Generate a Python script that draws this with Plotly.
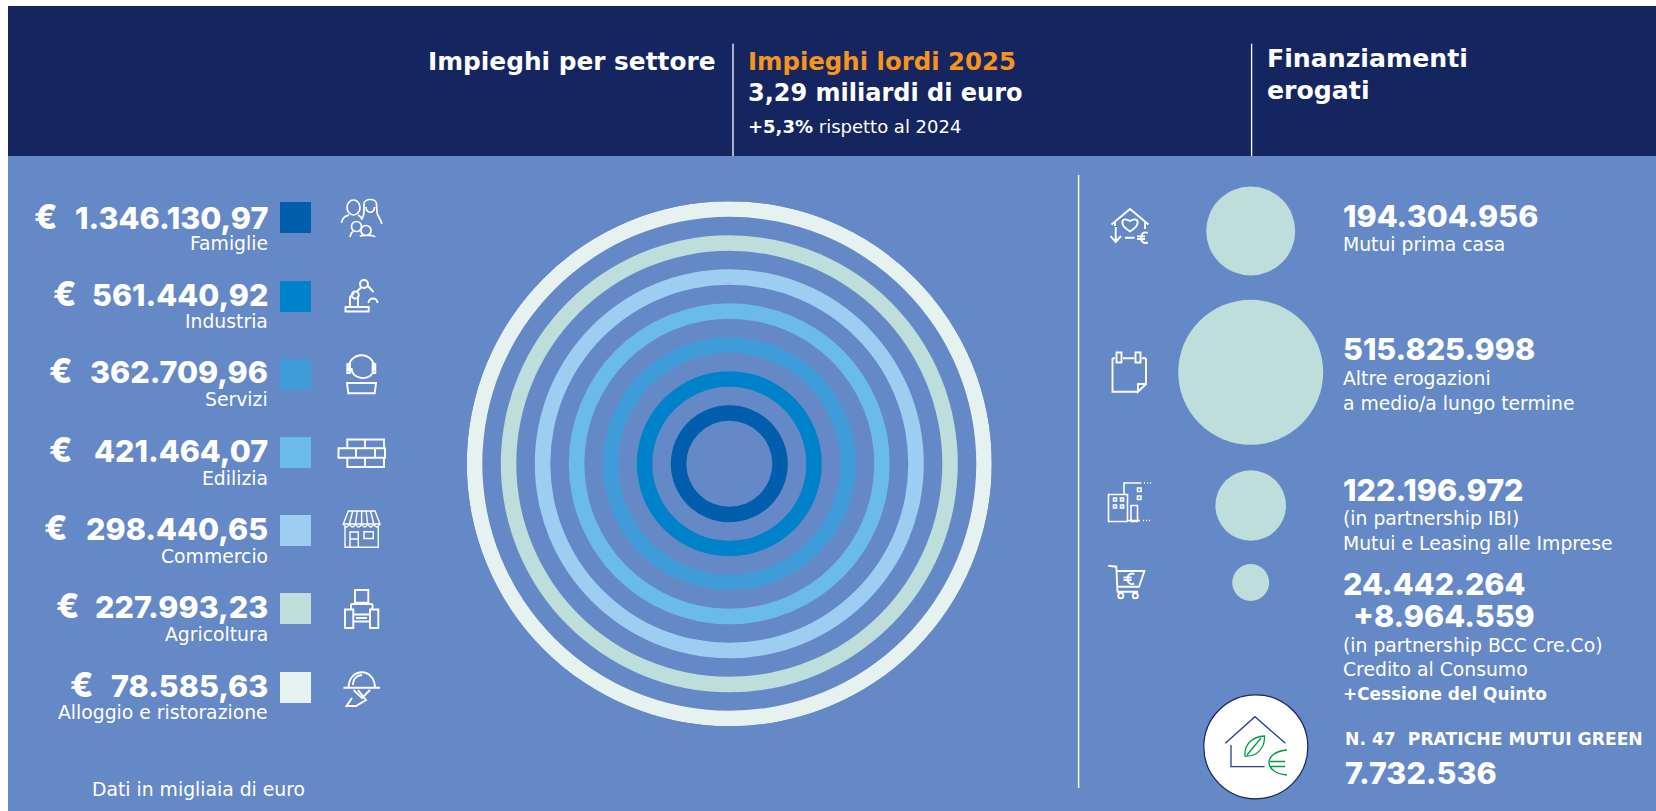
import plotly.graph_objects as go

W, H = 1656, 811
FONT = "Inter"
WIDE = "DejaVu Sans"

# ---- data ----
sectors = ["Famiglie", "Industria", "Servizi", "Edilizia", "Commercio", "Agricoltura", "Alloggio e ristorazione"]
sector_values = [1346130.97, 561440.92, 362709.96, 421464.07, 298440.65, 227993.23, 78585.63]
sector_colors = ["#005EAD", "#0082CA", "#3F9CD9", "#6ABBEA", "#9DCEF2", "#BDDEDB", "#E6F2F0"]
funding_values = [194304956, 515825998, 122196972, 24442264 + 8964559]
funding_colors = "#BDDEDB"

# ---- layout constants (pixels) ----
NAVY, BLUE, ORANGE = "#14255F", "#6589C7", "#F7941E"
ROW_VAL_BASE = [228.7, 306, 383.3, 461.7, 540, 618, 696.7]
ROW_LAB_BASE = [250, 328, 406, 485, 563, 641, 719]
ROW_EURO_RIGHT = [58, 76.7, 73.3, 73.3, 68, 80, 94.3]
SWATCH_Y = [217.5, 296.5, 374.5, 452.5, 530.5, 608.5, 687.5]
BUBBLE_Y = [231, 372.3, 505.5, 582.5]
CX, CY, R_OUT = 729.3, 463.8, 262.5
RING_W, RING_PITCH, RING_IN = 15.5, 34, 43

def it_num(v, dec=2):
    s = f"{v:,.{dec}f}"
    return s.replace(",", "§").replace(".", ",").replace("§", ".")

fig = go.Figure()

# rings
fig.add_trace(go.Barpolar(
    r=[RING_W] * len(sectors),
    base=[RING_IN + RING_PITCH * i for i in range(len(sectors))],
    theta=[180] * len(sectors), width=[360] * len(sectors),
    marker=dict(color=sector_colors, line=dict(width=0)),
    text=sectors, hoverinfo="text", showlegend=False))

# swatches
fig.add_trace(go.Scatter(
    x=[295.5] * len(sectors), y=SWATCH_Y, mode="markers", text=sectors, hoverinfo="text",
    marker=dict(symbol="square", size=31, color=sector_colors, line=dict(width=0)), showlegend=False))

# bubbles
fig.add_trace(go.Scatter(
    x=[1250.7] * 4, y=BUBBLE_Y, mode="markers",
    marker=dict(size=funding_values, sizemode="area", sizeref=2 * max(funding_values) / 145.0 ** 2,
                opacity=1, color=funding_colors, line=dict(width=0)), hoverinfo="skip", showlegend=False))

# green badge
fig.add_trace(go.Scatter(
    x=[1255.8], y=[746.8], mode="markers", hoverinfo="skip", showlegend=False,
    marker=dict(size=104, color="white", line=dict(width=1.2, color=NAVY))))

shapes = []
def rect(x0, y0, x1, y1, c):
    shapes.append(dict(type="rect", xref="x", yref="y", x0=x0, y0=y0, x1=x1, y1=y1,
                       fillcolor=c, line=dict(width=0), layer="below"))
def vline(x, y0, y1, w=1.3):
    shapes.append(dict(type="line", xref="x", yref="y", x0=x, x1=x, y0=y0, y1=y1,
                       line=dict(color="white", width=w), layer="above"))

rect(8, 6, W, 156, NAVY)
rect(8, 156, W, H, BLUE)
vline(733, 43.7, 156); vline(1251.6, 43.7, 156); vline(1078.6, 175, 788, 1.4)

# ---- icon helpers ----
def ell(cx, cy, rx, ry=None):
    ry = rx if ry is None else ry
    k = 0.5523
    return (f"M{cx-rx},{cy} C{cx-rx},{cy-k*ry} {cx-k*rx},{cy-ry} {cx},{cy-ry} "
            f"C{cx+k*rx},{cy-ry} {cx+rx},{cy-k*ry} {cx+rx},{cy} "
            f"C{cx+rx},{cy+k*ry} {cx+k*rx},{cy+ry} {cx},{cy+ry} "
            f"C{cx-k*rx},{cy+ry} {cx-rx},{cy+k*ry} {cx-rx},{cy} Z ")
def pl(*pts, close=False):
    s = "M" + " L".join(f"{x},{y}" for x, y in pts)
    return s + (" Z " if close else " ")
def box(x0, y0, x1, y1):
    return pl((x0, y0), (x1, y0), (x1, y1), (x0, y1), close=True)
def euro(cx, cy, r):
    return (f"M{cx+.8*r},{cy-.8*r} C{cx-.7*r},{cy-1.4*r} {cx-.7*r},{cy+1.4*r} {cx+.8*r},{cy+.8*r} "
            + pl((cx-r, cy-.22*r), (cx+.35*r, cy-.22*r)) + pl((cx-r, cy+.22*r), (cx+.35*r, cy+.22*r)))
def heart(cx, cy, r):
    return (f"M{cx},{cy+r} C{cx-1.6*r},{cy} {cx-1.1*r},{cy-1.1*r} {cx},{cy-.4*r} "
            f"C{cx+1.1*r},{cy-1.1*r} {cx+1.6*r},{cy} {cx},{cy+r} Z ")
def icon(path, color="white", w=1.9):
    shapes.append(dict(type="path", xref="x", yref="y", path=path,
                       line=dict(color=color, width=w), fillcolor="rgba(0,0,0,0)", layer="above"))

# famiglie
icon(ell(353.5, 207.5, 6.5, 7.5) + "M341.5,223 C342,217 346,216 349,215 "
     + "M358,215 C360,216 361,217 362,219 "
     + "M364,204 C364,198 376.5,198 376.5,204 L377,212 C377,216 381,219 381.8,224 "
     + "M364,204 L364,212 C364,216 362,218 361.5,220 "
     + "M366,207 C366,214 374.5,214 374.5,207 "
     + ell(356.5, 226.5, 5) + ell(366, 230.5, 5)
     + "M350,237 C351,233 352,232 353,231.5 M360,236.5 C361,235 374,235 375,237", w=1.7)
# industria
icon(box(345.5, 307, 368.7, 311.5) + pl((350, 307), (350, 297), (354, 293)) + pl((358, 307), (358, 296))
     + ell(355.3, 295, 3.5) + ell(364, 284, 4) + pl((356.5, 292), (361.5, 287))
     + pl((367.5, 285.5), (373.5, 292)) + "M368.5,303 C368.5,297 377.5,297 377.5,303 ")
# servizi
icon("M348.5,371 C347,350 376,350 374.5,371 "
     + box(347.3, 364, 350, 373) + box(372.6, 364, 375.3, 373)
     + "M351.5,368 C352,380 368,380 372,374 "
     + pl((347, 383), (376, 383), (374.7, 393.3), (348.3, 393.3), close=True))
# edilizia
icon(box(347.3, 439.5, 384, 448.3) + pl((365, 439.5), (365, 448.3)) + box(338.5, 448.3, 385, 457.7)
     + pl((356, 448.3), (356, 457.7)) + pl((375, 448.3), (375, 457.7)) + box(347.3, 457.7, 384, 467)
     + pl((365, 457.7), (365, 467)))
# commercio
aw = pl((348.3, 511), (375, 511), (380, 524), (343.3, 524), close=True)
for i in range(1, 6):
    aw += pl((348.3 + i * 4.45, 511), (343.3 + i * 6.1, 524))
for i in range(6):
    aw += f"M{343.3+i*6.1},524 Q{346.4+i*6.1},530 {349.4+i*6.1},524 "
icon(aw + pl((345, 527), (345, 547.3), (378.3, 547.3), (378.3, 527))
     + box(350, 532, 358.3, 547.3) + pl((350, 539), (358.3, 539)) + box(364, 531.7, 373.3, 538.5), w=1.4)
# agricoltura
icon(box(355, 590, 368.3, 602.7) + pl((351, 604), (372.5, 604)) + pl((351, 604), (351, 609)) + pl((372.5, 604), (372.5, 609))
     + box(345, 609.5, 353.3, 628) + box(370, 609.5, 378.3, 628) + pl((353.3, 621.5), (370, 621.5))
     + pl((353.3, 614.5), (370, 614.5)) + pl((356, 618), (367, 618)))
# alloggio e ristorazione
icon(pl((343.5, 687.7), (380, 687.7)) + "M348.5,687.7 C349,667 374.5,667 375,687.7 "
     + "M353,685 C353,677 359,675 362,675 " + pl((353.5, 690), (362, 698), (370, 690)) + pl((358, 690), (366, 700), (356, 706), (346.5, 706), (352, 698)))
# mutui prima casa
icon(pl((1111.5, 224.5), (1130, 209), (1148.5, 224.5)) + pl((1115, 222), (1115, 226)) + pl((1145, 222), (1145, 229))
     + heart(1130, 224, 7.5) + pl((1115.7, 227), (1115.7, 241)) + pl((1110.5, 236), (1115.7, 242), (1121, 236))
     + pl((1125, 237.7), (1134.5, 237.7)) + euro(1143, 237.7, 6))
# altre erogazioni
icon(pl((1138, 391.7), (1112.5, 391.7), (1112.5, 358.3)) + pl((1123, 358.3), (1134, 358.3)) + pl((1146, 358.3), (1146, 384), (1138, 391.7), (1138, 384), (1146, 384))
     + pl((1112.5, 358.3), (1115, 358.3)) + pl((1142, 358.3), (1146, 358.3)) + box(1116.5, 352.5, 1121.5, 362.5) + box(1135.5, 352.5, 1140.5, 362.5))
# imprese
b = box(1108.5, 494.5, 1127.5, 521.5) + pl((1124, 494.5), (1124, 483), (1141.5, 483)) + box(1131, 505.5, 1137.5, 521.5)
b += pl((1127.5, 520.5), (1140, 520.5))
for xx in (1113.5, 1120.5):
    for yy in (498, 505):
        b += box(xx, yy, xx + 3, yy + 3)
for yy in (488, 496):
    b += box(1137.5, yy, 1141, yy + 3.5)
icon(b, w=1.6)
icon(pl((1144, 483), (1152, 483)) + pl((1143, 520.5), (1152, 520.5)), w=1.6)
shapes[-1]["line"]["dash"] = "1px,2px"
# credito al consumo
icon(pl((1108.3, 565.7), (1116.3, 566.7), (1117.5, 591.7), (1138, 591.7)) + pl((1116.6, 571), (1144.4, 571), (1139, 586.7), (1118, 586.7))
     + ell(1120.8, 595.7, 2.6) + ell(1135.3, 595.7, 2.6) + euro(1129.5, 578.8, 6))
# green badge icon
icon(pl((1225.3, 743.3), (1255, 716.7), (1285.4, 743.3)) + pl((1231, 745), (1231, 766.7), (1264.5, 766.7)), color="#22418F", w=1.3)
icon("M1245,756 C1244,745 1252,736.5 1264.5,736 C1265,748 1257,757 1245,756 Z M1247,755 L1261,738 "
     + "M1287,750 C1263,752 1263,773 1287,775 " + pl((1270, 761.5), (1285, 761.5)) + pl((1270, 766.5), (1285, 766.5)),
     color="#009A44", w=1.3)

# ---- text ----
ann = []
def txt(x, base, s, size, weight=400, anchor="left", color="white", fam=FONT, k=0.23):
    ann.append(dict(x=x, y=base + size * k, xref="x", yref="y", text=s, showarrow=False, xanchor=anchor, yanchor="bottom",
                    borderpad=0, borderwidth=0, align=anchor,
                    font=dict(family=fam, size=size, color=color, weight=weight)))

BIG, LAB = 30.5, 18.8
def lab(x, base, s, anchor="left", weight=400, size=LAB):
    txt(x, base, s, size, weight, anchor, fam=WIDE)
def head(x, base, s, color="white", size=24.4):
    txt(x, base, s, size, 700, color=color, fam=WIDE)

for i, name in enumerate(sectors):
    txt(268, ROW_VAL_BASE[i], it_num(sector_values[i]), BIG, 800, "right")
    txt(ROW_EURO_RIGHT[i], ROW_VAL_BASE[i], "€", 34, 800, "right")
    lab(268, ROW_LAB_BASE[i], name, "right")
lab(91.7, 795.7, "Dati in migliaia di euro")

head(428, 70, "Impieghi per settore", size=24.8)
head(747.5, 70, "Impieghi lordi 2025", ORANGE)
head(747.5, 101.7, "3,29 miliardi di euro", size=24)
lab(747.5, 132.7, "<b>+5,3%</b> rispetto al 2024", size=18)
head(1266.5, 67.7, "Finanziamenti", size=25.2)
head(1266.5, 99, "erogati", size=25.2)

RX = 1343
txt(RX, 226.7, it_num(funding_values[0], 0), BIG, 800)
lab(RX, 250.7, "Mutui prima casa")
txt(RX, 360, it_num(funding_values[1], 0), BIG, 800)
lab(RX, 385, "Altre erogazioni")
lab(RX, 409.3, "a medio/a lungo termine")
txt(RX, 500.7, it_num(funding_values[2], 0), BIG, 800)
lab(RX, 525, "(in partnership IBI)")
lab(RX, 550, "Mutui e Leasing alle Imprese")
txt(RX, 595, it_num(24442264, 0), BIG, 800)
txt(1353.4, 626.7, "+" + it_num(8964559, 0), BIG, 800)
lab(RX, 651.7, "(in partnership BCC Cre.Co)")
lab(RX, 676, "Credito al Consumo")
lab(RX, 700, "+Cessione del Quinto", weight=600, size=16.9)
txt(1345, 745, "N. 47\u00a0\u00a0PRATICHE MUTUI GREEN", 17.2, 600, fam=WIDE)
txt(1345, 784.3, it_num(7732536, 0), BIG, 800)

fig.update_layout(
    width=W, height=H, autosize=False, margin=dict(l=0, r=0, t=0, b=0, pad=0),
    paper_bgcolor="white", plot_bgcolor="rgba(0,0,0,0)", showlegend=False,
    xaxis=dict(range=[0, W], domain=[0, 1], visible=False, fixedrange=True),
    yaxis=dict(range=[H, 0], domain=[0, 1], visible=False, fixedrange=True),
    polar=dict(
        domain=dict(x=[(CX - R_OUT) / W, (CX + R_OUT) / W], y=[1 - (CY + R_OUT) / H, 1 - (CY - R_OUT) / H]),
        bgcolor="rgba(0,0,0,0)",
        radialaxis=dict(visible=False, range=[0, R_OUT]),
        angularaxis=dict(visible=False)),
    shapes=shapes, annotations=ann)

fig.write_html("out.html", config={"displayModeBar": False},
               post_script="document.body.style.margin='0';document.body.style.overflow='hidden';")
